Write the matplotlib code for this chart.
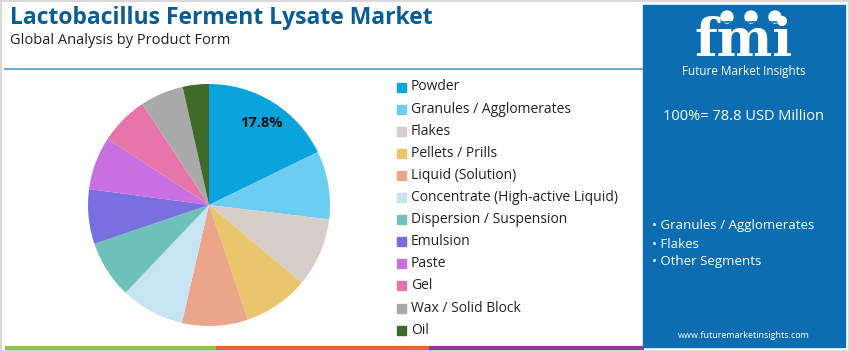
import matplotlib.pyplot as plt
from matplotlib.patches import Rectangle, Circle

plt.rcParams['font.family'] = ['Open Sans', 'DejaVu Sans']

# data
forms = ['Powder', 'Granules / Agglomerates', 'Flakes', 'Pellets / Prills',
         'Liquid (Solution)', 'Concentrate (High-active Liquid)',
         'Dispersion / Suspension', 'Emulsion', 'Paste', 'Gel',
         'Wax / Solid Block', 'Oil']
shares = [17.8, 9.1, 9.2, 8.7, 8.8, 8.5, 7.7, 7.3, 7.1, 6.5, 5.8, 3.5]
colors = ['#0aa3dc', '#6bcdf0', '#d7ceca', '#e9c56c', '#eba58b', '#c7e4f3',
          '#6fc0b9', '#7a6fe0', '#c870e1', '#e674a9', '#a9a9a9', '#3e6a2a']
total_label = '100%= 78.8 USD Million'
key_segments = ['Granules / Agglomerates', 'Flakes', 'Other Segments']

W, H = 850, 351
fig = plt.figure(figsize=(W / 100, H / 100), dpi=100)

# background axes in pixel coordinates
bg = fig.add_axes([0, 0, 1, 1])
bg.set_xlim(0, W)
bg.set_ylim(H, 0)
bg.axis('off')

bg.add_patch(Rectangle((0.5, 0.5), W - 1, H - 1, fill=False, ec='#d9d9d9', lw=1.5))

bg.text(10, 18, 'Lactobacillus Ferment Lysate Market', fontsize=16.5,
        fontweight='bold', color='#0b5c93', va='center')
bg.text(10, 40, 'Global Analysis by Product Form', fontsize=10.5,
        color='#222222', va='center')
bg.plot([5, 642], [69, 69], color='#4a9ad0', lw=1.2)

# bottom stripe
bg.plot([5, 216], [348, 348], color='#8cc152', lw=3, solid_capstyle='butt')
bg.plot([216, 429], [348, 348], color='#e8603c', lw=3, solid_capstyle='butt')
bg.plot([429, 644], [348, 348], color='#8e3d92', lw=3, solid_capstyle='butt')

# right panel
bg.add_patch(Rectangle((643, 5), 202, 342, color='#0d6db3'))
bg.text(744, 56, 'fmi', fontsize=38, fontweight='bold', family='DejaVu Serif',
        color='white', ha='center', va='baseline')
for yy in range(22, 58, 5):
    bg.plot([692, 798], [yy, yy], color='#0d6db3', lw=1.2)
for cx in [727, 751, 775]:
    bg.add_patch(Circle((cx, 17), 6, color='white'))
bg.text(744, 72, 'Future Market Insights', fontsize=8.5, color='white',
        ha='center', va='center')
bg.text(744, 117, total_label, fontsize=10.5, color='white',
        ha='center', va='center')
for i, seg in enumerate(key_segments):
    bg.text(652, 226 + i * 18, '• ' + seg, fontsize=9.5, color='white', va='center')
bg.text(744, 335, 'www.futuremarketinsights.com', fontsize=6.5, color='white',
        ha='center', va='center')

# legend
for i, (name, c) in enumerate(zip(forms, colors)):
    y = 87 + i * 22.1
    bg.add_patch(Rectangle((397, y - 4.5), 9, 9, color=c))
    bg.text(411, y, name, fontsize=10, color='#222222', va='center')

# pie
cx, cy, r = 209, 205, 121
ax = fig.add_axes([(cx - r) / W, (H - cy - r) / H, 2 * r / W, 2 * r / H])
ax.pie(shares, colors=colors, startangle=90, counterclock=False, radius=1,
       wedgeprops=dict(linewidth=0))
ax.set_xlim(-1, 1)
ax.set_ylim(-1, 1)
ax.set_aspect('equal')
ax.axis('off')
ax.text(0.43, 0.68, f'{shares[0]}%', fontsize=10.5, fontweight='bold',
        ha='center', va='center', color='#111111')

fig.savefig('out.png', dpi=100)
